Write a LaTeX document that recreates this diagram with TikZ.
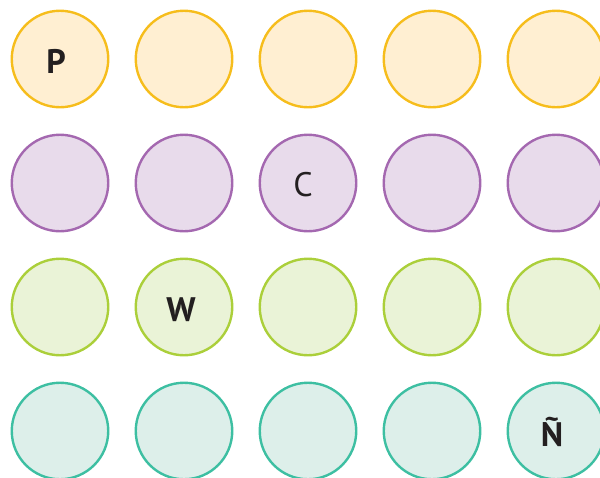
\documentclass[tikz,border=0pt]{standalone}
\usepackage{fontspec}
\setmainfont{PT Sans}
\usetikzlibrary{positioning}

\definecolor{ylwline}{HTML}{F6BD1C}
\definecolor{ylwfill}{HTML}{FFEFD2}
\definecolor{purline}{HTML}{A468B0}
\definecolor{purfill}{HTML}{E8DBEB}
\definecolor{grnline}{HTML}{ABCF3A}
\definecolor{grnfill}{HTML}{EAF3D7}
\definecolor{tealline}{HTML}{3DBFA2}
\definecolor{tealfill}{HTML}{DDEFEA}
\definecolor{ink}{HTML}{231F20}

\begin{document}
\begin{tikzpicture}[x=1pt, y=-1pt,
      dot/.style={circle, minimum size=96.5pt, inner sep=0pt, line width=2.4pt},
      row1/.style={dot, draw=ylwline, fill=ylwfill},
      row2/.style={dot, draw=purline, fill=purfill},
      row3/.style={dot, draw=grnline, fill=grnfill},
      row4/.style={dot, draw=tealline, fill=tealfill},
      letter/.style={text=ink, inner sep=0pt, font=\fontsize{34}{34}\selectfont},
      boldletter/.style={letter, font=\fontsize{34}{34}\selectfont\bfseries}]
    \useasboundingbox (0,0) rectangle (600,477);
    \clip (0,0) rectangle (600,477);
    \foreach \r/\y in {1/59, 2/183, 3/307, 4/431} {
      \foreach \c/\x in {1/60, 2/184, 3/308, 4/432, 5/556} {
        \node[row\r] (d\r\c) at (\x,\y) {};
      }
    }
    % letters
    \node[boldletter] (lp) at ([xshift=-4pt,yshift=-2pt]d11.center) {P};
    \node[letter] (lc) at ([xshift=-5pt,yshift=-2pt]d23.center) {C};
    \node[boldletter] (lw) at ([xshift=-3pt,yshift=-3pt]d32.center) {W};
    \node[boldletter] (ln) at ([xshift=-4pt,yshift=-1pt]d45.center) {Ñ};
\end{tikzpicture}
\end{document}
